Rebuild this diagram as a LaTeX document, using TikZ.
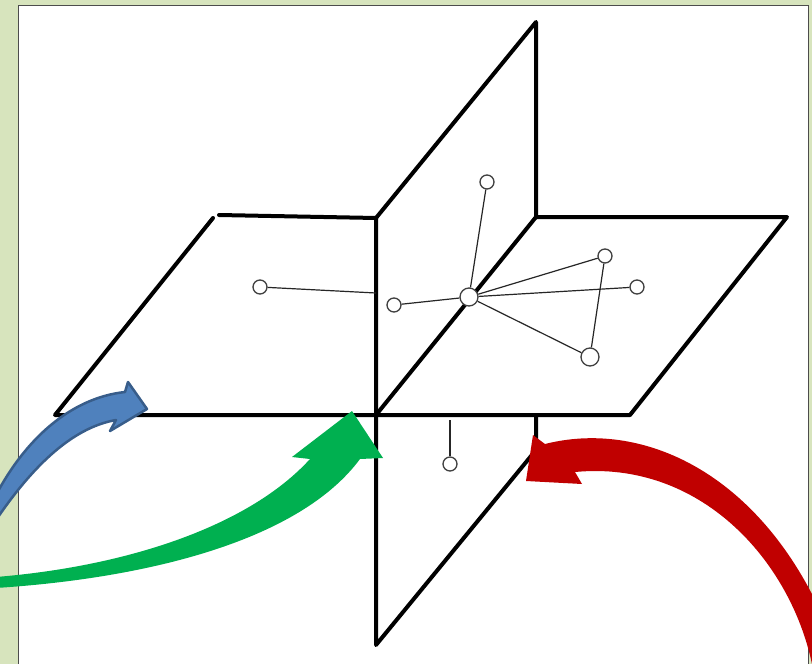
\documentclass[tikz,border=0pt]{standalone}
\usepackage{tikz}
\usepackage{xcolor}
\usetikzlibrary{positioning}
\definecolor{bgolive}{HTML}{D7E4BD}
\definecolor{arrblue}{HTML}{4F81BD}
\definecolor{arrblueline}{HTML}{385D8A}
\definecolor{arrgreen}{HTML}{00B050}
\definecolor{arrred}{HTML}{C00000}
\tikzstyle{plane} = [line width=4pt, 
line cap=round, 
line join=round, 
draw=black]
\tikzstyle{vertex} = [circle, 
minimum size=14pt, 
inner sep=0pt, 
fill=white, 
draw=black!75, 
line width=1.3pt]
\tikzstyle{bigvertex} = [vertex, 
minimum size=18pt]
\tikzstyle{edge} = [line width=1.2pt, draw=black!85]
\begin{document}
\begin{tikzpicture}[x=1pt, y=-1pt]
        % Fondo y marco
        \useasboundingbox (0,0) rectangle (812,664);
        \clip (0,0) rectangle (812,664);
        \fill[bgolive] (0,0) rectangle (812,664);
        \draw[fill=white, draw=black!70, line width=1pt] (18,5) rectangle (808,680);
        
        % --- PLANOS ---
        % plano horizontal
        \draw[plane] (219,215) -- (376,218);
        \draw[plane] (213,218) -- (55,415) -- (630,415) -- (787,217) -- (536,217);
        % plano vertical
        \draw[plane] (376,218) -- (536,22) -- (536,217);
        \draw[plane] (376,218) -- (376,645) -- (536,450) -- (536,415);
        \draw[plane] (376,415) -- (536,217);
        
        % --- GRAFO ---
        \coordinate (wall) at (376,293);
        \node (left) [vertex] at (260,287) {};
        \node (near) [vertex] at (394,305) {};
        \node (hub) [bigvertex] at (469,297) {};
        \node (top) [vertex] at (487,182) {};
        \node (rtop) [vertex] at (605,256) {};
        \node (right) [vertex] at (637,287) {};
        \node (rbot) [bigvertex] at (590,357) {};
        \coordinate (under) at (450,420);
        \node (low) [vertex] at (450,464) {};
        
        \draw[edge] (left) -- (wall);
        \draw[edge] (near) -- (hub);
        \draw[edge] (hub) -- (top);
        \draw[edge] (hub) -- (rtop);
        \draw[edge] (hub) -- (right);
        \draw[edge] (hub) -- (rbot);
        \draw[edge] (rtop) -- (rbot);
        \draw[edge] (under) -- (low);
        
        % --- FLECHAS CURVAS ---
        % azul: plano horizontal
        \draw[fill=arrblue, draw=arrblueline, line width=2.5pt, line join=round]
            (147,409) -- (128,382) -- (125,392) .. controls (70,398) and (25,440) .. (-4,495)
            -- (-4,520) .. controls (30,470) and (70,428) .. (116,420) -- (110,431) -- cycle;
        % verde: interseccion
        \fill[arrgreen] (292,457) -- (352,411) -- (383,458) -- (360,459)
            .. controls (300,540) and (150,578) .. (-4,588) -- (-4,577)
            .. controls (130,566) and (250,525) .. (310,459) -- cycle;
        % roja: plano vertical
        \fill[arrred] (533,435) -- (545,444) .. controls (640,420) and (750,470) .. (815,600)
            -- (815,664) -- (812,664) .. controls (790,560) and (700,460) .. (575,472)
            -- (582,484) -- (526,481) -- cycle;

    \end{tikzpicture}
\end{document}
